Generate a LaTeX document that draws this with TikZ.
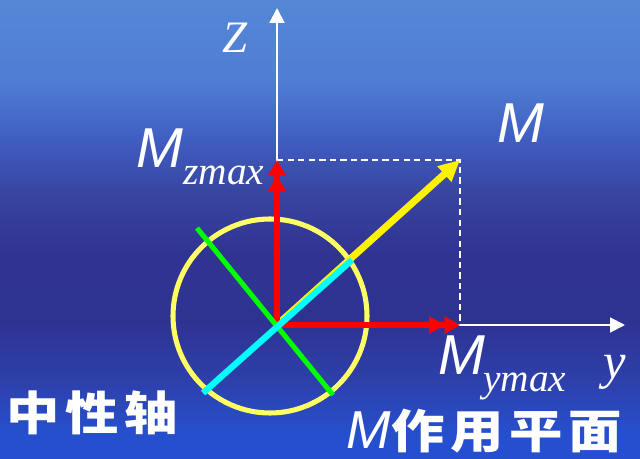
\documentclass[tikz,border=0pt]{standalone}
\usepackage{fontspec}
\setmainfont{Liberation Serif}
\newfontfamily\sansfam{Liberation Sans}
\newfontfamily\cjk{Noto Sans CJK SC}
\usetikzlibrary{arrows.meta}
\definecolor{ring}{RGB}{255,255,100}
\definecolor{aqua}{RGB}{0,255,255}
\definecolor{lime}{RGB}{0,255,0}
\pgfdeclareverticalshading{bgshade}{100bp}{rgb(0bp)=(0.14,0.31,0.82); rgb(25bp)=(0.14,0.31,0.82); rgb(28bp)=(0.15,0.31,0.80);
  rgb(33.5bp)=(0.18,0.25,0.67); rgb(40bp)=(0.18,0.20,0.57); rgb(47.5bp)=(0.19,0.20,0.57);
  rgb(54bp)=(0.22,0.27,0.63); rgb(60bp)=(0.25,0.37,0.76); rgb(66bp)=(0.31,0.49,0.83); rgb(75bp)=(0.33,0.53,0.84); rgb(100bp)=(0.33,0.53,0.84)}
\newcommand\bigM{\sansfam\itshape\fontsize{40}{40}\selectfont}
\newcommand\subsc{\fontsize{28}{28}\selectfont\itshape}
\newcommand\hanzi{\cjk\bfseries\fontsize{33}{33}\selectfont\addfontfeatures{LetterSpace=11}}
\begin{document}
\begin{tikzpicture}[x=0.025cm,y=-0.025cm,
  axis/.style={white,line width=1.4pt,-{Triangle[length=10.5pt,width=10.5pt]}},
  comp/.style={red,line width=3.6pt,-{Triangle[length=11pt,width=12pt]Triangle[length=11pt,width=12pt]}},
  txt/.style={white,inner sep=0pt,anchor=base west}]
\shade[shading=bgshade] (0,0) rectangle (640,459);
\useasboundingbox (0,0) rectangle (640,459);
\coordinate (O) at (277,325); \coordinate (Zt) at (277,8); \coordinate (Yt) at (625,325);
\coordinate (Mz) at (277,160); \coordinate (My) at (460,325); \coordinate (M) at (460,160);
\coordinate (G1) at (197,228); \coordinate (G2) at (333,395);
\coordinate (C1) at (203,393); \coordinate (C2) at (352,260);
\draw[white,line width=1.3pt,dash pattern=on 4.5pt off 3pt] (Mz)--(M)--(My);
\draw[axis] (O)--(Zt); \draw[axis] (O)--(Yt);
\draw[ring,line width=3.6pt] (270,316) circle (97);
\draw[yellow,line width=5pt,-{Triangle[length=15pt,width=14pt]}] (O)--(M);
\foreach \p in {Mz,My} \draw[comp] (O)--(\p);
\draw[lime,line width=3.6pt] (G1)--(G2);
\draw[aqua,line width=4.5pt] (C1)--(C2);
% labels
\node[txt,font=\fontsize{32}{32}\selectfont\itshape] (zlab) at (222,53) {Z};
\node[txt,font=\fontsize{36}{36}\selectfont\itshape] (ylab) at (603,379) {y};
\node[txt,font=\bigM] (mlab) at (497,143) {M};
\node[txt,font=\bigM] (mzlab) at (136,168) {M};
\node[txt,font=\subsc] (mzsub) at (183,185) {zmax};
\node[txt,font=\bigM] (mylab) at (438,375) {M};
\node[txt,font=\subsc] (mysub) at (483,392) {ymax};
\node[txt,font=\hanzi,xscale=1.15,transform shape] (axlab) at (6,431) {中性轴};
\node[txt,font=\sansfam\itshape\fontsize{38}{38}\selectfont] (planeM) at (346,448) {M};
\node[txt,font=\hanzi,xscale=1.15,transform shape] (planelab) at (391,448) {作用平面};
\end{tikzpicture}
\end{document}
